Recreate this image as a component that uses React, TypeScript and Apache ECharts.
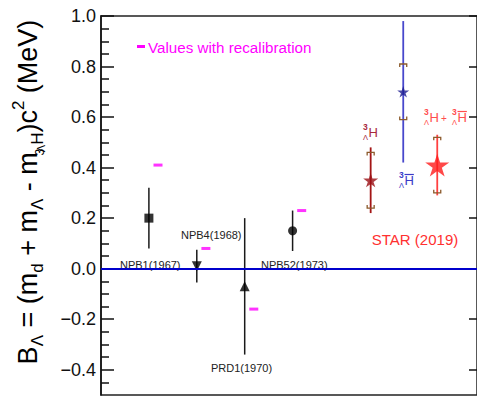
import React, { useEffect, useRef } from "react";
import * as echarts from "echarts";

// ---------- data ----------
const oldNames = ["NPB1(1967)", "NPB4(1968)", "PRD1(1970)", "NPB52(1973)"];
const oldX = [1, 2, 3, 4];
const oldValues = [0.2, 0.01, -0.07, 0.15];
const oldErrors = [0.12, 0.065, 0.27, 0.08];
const oldSymbols = ["rect", "triangle", "triangle", "circle"];
const oldSymbolRotate = [0, 180, 0, 0];
const recalValues = [0.41, 0.08, -0.16, 0.23];

const starX = [5.63, 6.31, 7.02];
const starValues = [0.35, 0.7, 0.41];
const starStat = [0.13, 0.28, 0.12];
const starSyst = [0.11, 0.11, 0.11];

const yMajorTicks = [-0.4, -0.2, 0.0, 0.2, 0.4, 0.6, 0.8, 1.0];

// ---------- style ----------
const F = "'Liberation Sans', Arial, Helvetica, sans-serif";
const X_MAX = 7.85;
const Y_MIN = -0.5;
const Y_MAX = 1.0;
const starLineColors = ["#a31515", "#4848cc", "#ff4040"];
const starColors = ["#9a0f14", "#1a1a90", "#ff1a1a"];
const starSizes = [15, 12, 24];
const systColor = "#8b5a2b";
const magenta = "#ff00ff";

const yMinorTicks: number[] = [];
for (let i = -9; i <= 19; i++) {
  const v = Math.round(i * 5) / 100;
  if (Math.abs(Math.round(v * 100) % 20) !== 0) yMinorTicks.push(v);
}

function starPath(): string {
  const pts: string[] = [];
  for (let i = 0; i < 10; i++) {
    const a = -Math.PI / 2 + (i * Math.PI) / 5;
    const r = i % 2 === 0 ? 1 : 0.382;
    pts.push(`${(r * Math.cos(a)).toFixed(4)} ${(r * Math.sin(a)).toFixed(4)}`);
  }
  return "path://M" + pts.join(" L") + " Z";
}

function nuclide(x: number, yMid: number, color: string, anti: boolean, hSize = 13) {
  const els: any[] = [
    { type: "text", x, y: yMid - 5, style: { text: "3", fontSize: 8.5, fontFamily: F, fill: color, align: "left", verticalAlign: "middle", fontWeight: "bold" } },
    { type: "text", x, y: yMid + 5.5, style: { text: "Λ", fontSize: 7.5, fontFamily: F, fill: color, align: "left", verticalAlign: "middle" } },
    { type: "text", x: x + 5.5, y: yMid, style: { text: "H", fontSize: hSize, fontFamily: F, fill: color, align: "left", verticalAlign: "middle" } },
  ];
  if (anti) {
    els.push({
      type: "line",
      shape: { x1: x + 5.5, y1: yMid - 5.5, x2: x + 5.5 + hSize * 0.72, y2: yMid - 5.5 },
      style: { stroke: color, lineWidth: 1.2 },
    });
  }
  return els;
}

export default function App() {
  const ref = useRef<HTMLDivElement>(null);

  useEffect(() => {
    if (!ref.current) return;
    const chart = echarts.init(ref.current, null, { renderer: "svg" });

    const errData = oldX.map((x, i) => [x, oldValues[i], oldValues[i] - oldErrors[i], oldValues[i] + oldErrors[i]]);
    const starErrData = starX.map((x, i) => [x, starValues[i], starValues[i] - starStat[i], starValues[i] + starStat[i], i]);
    const systData = starX.map((x, i) => [x, starValues[i], starValues[i] - starSyst[i], starValues[i] + starSyst[i], i]);

    const titleRich = {
      m: { fontSize: 27, fontFamily: F, fill: "#000", lineHeight: 36, verticalAlign: "middle" },
      s: { fontSize: 17, fontFamily: F, fill: "#000", lineHeight: 18, verticalAlign: "bottom" },
      p: { fontSize: 17, fontFamily: F, fill: "#000", lineHeight: 18, verticalAlign: "top" },
      a: { fontSize: 12, fontFamily: F, fill: "#000", lineHeight: 26, verticalAlign: "bottom", width: 0 },
      b: { fontSize: 11, fontFamily: F, fill: "#000", lineHeight: 10, verticalAlign: "bottom" },
    };

    const option: any = {
      animation: false,
      grid: { left: 101, right: -1, top: 16, bottom: 1, show: true, borderColor: "#222", borderWidth: 1.5 },
      xAxis: { type: "value", min: 0, max: X_MAX, show: false },
      yAxis: [
        {
          type: "value",
          min: Y_MIN,
          max: Y_MAX,
          position: "left",
          axisLine: { show: true, lineStyle: { color: "#111", width: 1.5 } },
          axisTick: { show: true, inside: true, length: 13, customValues: yMajorTicks, lineStyle: { color: "#111", width: 1.5 } },
          axisLabel: {
            show: true,
            customValues: yMajorTicks,
            margin: 5,
            fontSize: 18,
            fontFamily: F,
            color: "#111",
            formatter: (v: number) => v.toFixed(1).replace("-", "−"),
          },
          splitLine: { show: false },
        },
        {
          type: "value",
          min: Y_MIN,
          max: Y_MAX,
          position: "left",
          axisLine: { show: false },
          axisTick: { show: true, inside: true, length: 8, customValues: yMinorTicks, lineStyle: { color: "#111", width: 1.5 } },
          axisLabel: { show: false },
          splitLine: { show: false },
        },
        {
          type: "value",
          min: Y_MIN,
          max: Y_MAX,
          position: "right",
          axisLine: { show: false },
          axisTick: { show: true, inside: true, length: 8, customValues: yMajorTicks, lineStyle: { color: "#111", width: 1.5 } },
          axisLabel: { show: false },
          splitLine: { show: false },
        },
      ],
      series: [
        {
          type: "line",
          data: [],
          markLine: {
            silent: true,
            symbol: "none",
            label: { show: false },
            lineStyle: { color: "#0000cc", width: 2, type: "solid" },
            data: [{ yAxis: 0 }],
          },
        },
        {
          type: "custom",
          data: errData,
          renderItem: (params: any, api: any) => {
            const x = api.value(0);
            const lo = api.coord([x, api.value(2)]);
            const hi = api.coord([x, api.value(3)]);
            return { type: "line", shape: { x1: lo[0], y1: lo[1], x2: hi[0], y2: hi[1] }, style: { stroke: "#1a1a1a", lineWidth: 1.5 } };
          },
          z: 3,
        },
        {
          type: "scatter",
          data: oldX.map((x, i) => ({
            value: [x, oldValues[i]],
            symbol: oldSymbols[i],
            symbolRotate: oldSymbolRotate[i],
            symbolSize: oldSymbols[i] === "circle" ? 9 : oldSymbols[i] === "rect" ? 9 : 10,
          })),
          itemStyle: { color: "#000" },
          z: 4,
        },
        {
          type: "scatter",
          data: oldX.map((x, i) => [x + 0.19, recalValues[i]]),
          symbol: "rect",
          symbolSize: [9, 3],
          itemStyle: { color: magenta },
          z: 4,
        },
        {
          type: "custom",
          data: starErrData,
          renderItem: (params: any, api: any) => {
            const x = api.value(0);
            const idx = api.value(4);
            const lo = api.coord([x, api.value(2)]);
            const hi = api.coord([x, api.value(3)]);
            return { type: "line", shape: { x1: lo[0], y1: lo[1], x2: hi[0], y2: hi[1] }, style: { stroke: starLineColors[idx], lineWidth: 1.8 } };
          },
          z: 3,
        },
        {
          type: "custom",
          data: systData,
          renderItem: (params: any, api: any) => {
            const x = api.value(0);
            const lo = api.coord([x, api.value(2)]);
            const hi = api.coord([x, api.value(3)]);
            const w = 3.5;
            const h = 3;
            return {
              type: "group",
              children: [
                { type: "polyline", shape: { points: [[hi[0] - w, hi[1] + h], [hi[0] - w, hi[1]], [hi[0] + w, hi[1]], [hi[0] + w, hi[1] + h]] }, style: { stroke: systColor, lineWidth: 1.3, fill: "none" } },
                { type: "polyline", shape: { points: [[lo[0] - w, lo[1] - h], [lo[0] - w, lo[1]], [lo[0] + w, lo[1]], [lo[0] + w, lo[1] - h]] }, style: { stroke: systColor, lineWidth: 1.3, fill: "none" } },
              ],
            };
          },
          z: 4,
        },
        {
          type: "scatter",
          data: starX.map((x, i) => ({
            value: [x, starValues[i]],
            symbolSize: starSizes[i],
            itemStyle: { color: starColors[i] },
          })),
          symbol: starPath(),
          symbolKeepAspect: true,
          z: 5,
        },
      ],
      graphic: [
        {
          type: "text",
          x: 28,
          y: 192,
          rotation: Math.PI / 2,
          style: {
            text: "{m|B}{s|Λ}{m| = (m}{s|d}{m| + m}{s|Λ}{m| - m}{a|3}{b|Λ}{s|H}{m|)c}{p|2}{m| (MeV)}",
            rich: titleRich,
            align: "center",
            verticalAlign: "middle",
            fill: "#000",
          },
        },
        { type: "rect", shape: { x: 137, y: 45, width: 8, height: 3 }, style: { fill: magenta } },
        { type: "text", x: 148, y: 47, style: { text: "Values with recalibration", fontSize: 15.2, fontFamily: F, fill: magenta, align: "left", verticalAlign: "middle" } },
        { type: "text", x: 120, y: 265, style: { text: oldNames[0], fontSize: 11, fontFamily: F, fill: "#222", align: "left", verticalAlign: "middle" } },
        { type: "text", x: 181, y: 235, style: { text: oldNames[1], fontSize: 11, fontFamily: F, fill: "#222", align: "left", verticalAlign: "middle" } },
        { type: "text", x: 211, y: 368, style: { text: oldNames[2], fontSize: 11, fontFamily: F, fill: "#222", align: "left", verticalAlign: "middle" } },
        { type: "text", x: 261, y: 265, style: { text: oldNames[3], fontSize: 11, fontFamily: F, fill: "#222", align: "left", verticalAlign: "middle" } },
        { type: "text", x: 415, y: 239, style: { text: "STAR (2019)", fontSize: 15, fontFamily: F, fill: "#ff3030", align: "center", verticalAlign: "middle" } },
        ...nuclide(363, 132, "#a8283c", false),
        ...nuclide(399, 180, "#3a3ac8", true),
        ...nuclide(424, 117, "#ff4d4d", false),
        { type: "text", x: 444, y: 118, style: { text: "+", fontSize: 10, fontFamily: F, fill: "#ff4d4d", align: "center", verticalAlign: "middle" } },
        ...nuclide(452, 117, "#ff4d4d", true),
      ],
    };

    chart.setOption(option);
    return () => chart.dispose();
  }, []);

  return <div ref={ref} style={{ width: 477, height: 396, position: "absolute", left: 0, top: 0 }} />;
}
